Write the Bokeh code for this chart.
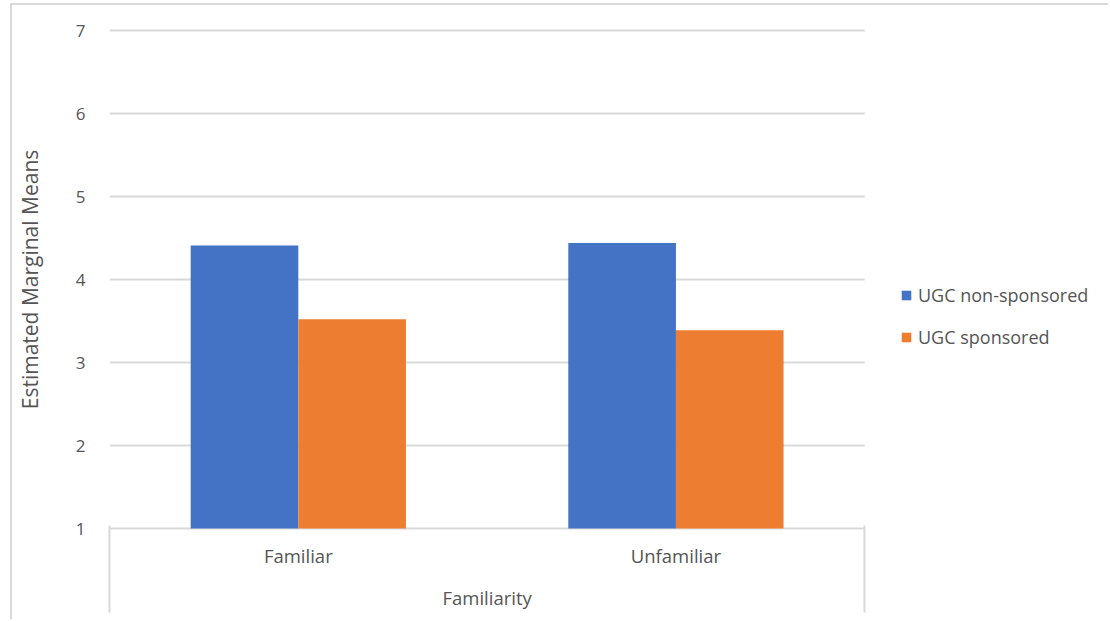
from bokeh.plotting import figure
from bokeh.models import (Range1d, FixedTicker, Legend, LegendItem, ColumnDataSource,
                          LinearAxis)
from bokeh.embed import file_html
from bokeh.resources import INLINE

categories = ["Familiar", "Unfamiliar"]
series_names = ["UGC non-sponsored", "UGC sponsored"]
non_sponsored = [4.41, 4.44]
sponsored = [3.52, 3.39]
y_ticks = [1, 2, 3, 4, 5, 6, 7]
x_title = "Familiarity"
y_title = "Estimated Marginal Means"

BLUE = "#4472C4"
ORANGE = "#ED7D31"
GRID = "#D9D9D9"
TEXT = "#555555"
FONT = "Open Sans"

n = len(categories)
centers = [i + 0.5 for i in range(n)]
bar_w = 0.285
PX_UNIT = 83            # pixels per y unit
CAT_PX = 756            # pixels spanned by the category area
FRAME_W = 1002          # frame extends right to hold the legend
x_end = n * FRAME_W / CAT_PX

p = figure(width=1098, height=616, output_backend="svg", toolbar_location=None,
           x_range=Range1d(0, x_end),
           y_range=Range1d(y_ticks[0] - 2 / PX_UNIT, y_ticks[0] + 500 / PX_UNIT),
           x_axis_location=None, min_border_left=96, min_border_right=0,
           min_border_top=23, min_border_bottom=91)
p.margin = (3, 0, 0, 10)
p.styles = {"border-left": "2px solid #D9D9D9", "border-top": "2px solid #D9D9D9"}
p.outline_line_color = None
p.background_fill_color = "white"
p.border_fill_color = "white"
p.xgrid.grid_line_color = None
p.ygrid.grid_line_color = None

# y axis
p.yaxis.ticker = FixedTicker(ticks=y_ticks)
p.yaxis.axis_line_color = None
p.yaxis.major_tick_line_color = None
p.yaxis.minor_tick_line_color = None
p.yaxis.major_label_standoff = 18
p.yaxis.major_label_text_font = FONT
p.yaxis.major_label_text_font_size = "17px"
p.yaxis.major_label_text_color = TEXT
p.yaxis.axis_label = y_title
p.yaxis.axis_label_text_font = FONT
p.yaxis.axis_label_text_font_size = "21px"
p.yaxis.axis_label_text_font_style = "normal"
p.yaxis.axis_label_text_color = TEXT
p.yaxis.axis_label_standoff = 29

# horizontal gridlines limited to the category area
p.segment(x0=[0] * len(y_ticks), x1=[n] * len(y_ticks), y0=y_ticks, y1=y_ticks,
          line_color=GRID, line_width=2)

src = ColumnDataSource(dict(
    x_blue=[c - bar_w / 2 for c in centers],
    x_orange=[c + bar_w / 2 for c in centers],
    non=non_sponsored, spo=sponsored,
))
base = y_ticks[0]
r1 = p.vbar(x="x_blue", top="non", bottom=base, width=bar_w, source=src,
            fill_color=BLUE, line_color=None)
r2 = p.vbar(x="x_orange", top="spo", bottom=base, width=bar_w, source=src,
            fill_color=ORANGE, line_color=None)


def plain_axis(ticks, labels, standoff, font_size):
    ax = LinearAxis(ticker=FixedTicker(ticks=ticks),
                    major_label_overrides=dict(zip(ticks, labels)))
    ax.axis_line_color = None
    ax.major_tick_line_color = None
    ax.major_tick_out = 0
    ax.major_tick_in = 0
    ax.minor_tick_line_color = None
    ax.major_label_standoff = standoff
    ax.major_label_text_font = FONT
    ax.major_label_text_font_size = font_size
    ax.major_label_text_color = TEXT
    return ax


# category labels
xa = plain_axis(centers, categories, 12, "18.5px")
p.add_layout(xa, "below")
# axis title, centred on the category area
xt = plain_axis([n / 2], [x_title], 14, "18.5px")
p.add_layout(xt, "below")
# outer axis drawing the box edges of the category area
xb = plain_axis([0, n], ["", ""], 0, "0px")
xb.major_tick_line_color = GRID
xb.major_tick_line_width = 2
xb.major_tick_in = 87
p.add_layout(xb, "below")

legend = Legend(items=[LegendItem(label=series_names[0], renderers=[r1]),
                       LegendItem(label=series_names[1], renderers=[r2])],
                location=(791, 181), orientation="vertical")
legend.padding = 0
legend.margin = 0
legend.spacing = 17
legend.label_height = 25
legend.glyph_height = 12
legend.glyph_width = 12
legend.label_standoff = 6
legend.border_line_color = None
legend.background_fill_alpha = 0
legend.label_text_font = FONT
legend.label_text_font_size = "18px"
legend.label_text_color = TEXT
p.add_layout(legend, "center")

open("out.html", "w").write(file_html(p, INLINE))
